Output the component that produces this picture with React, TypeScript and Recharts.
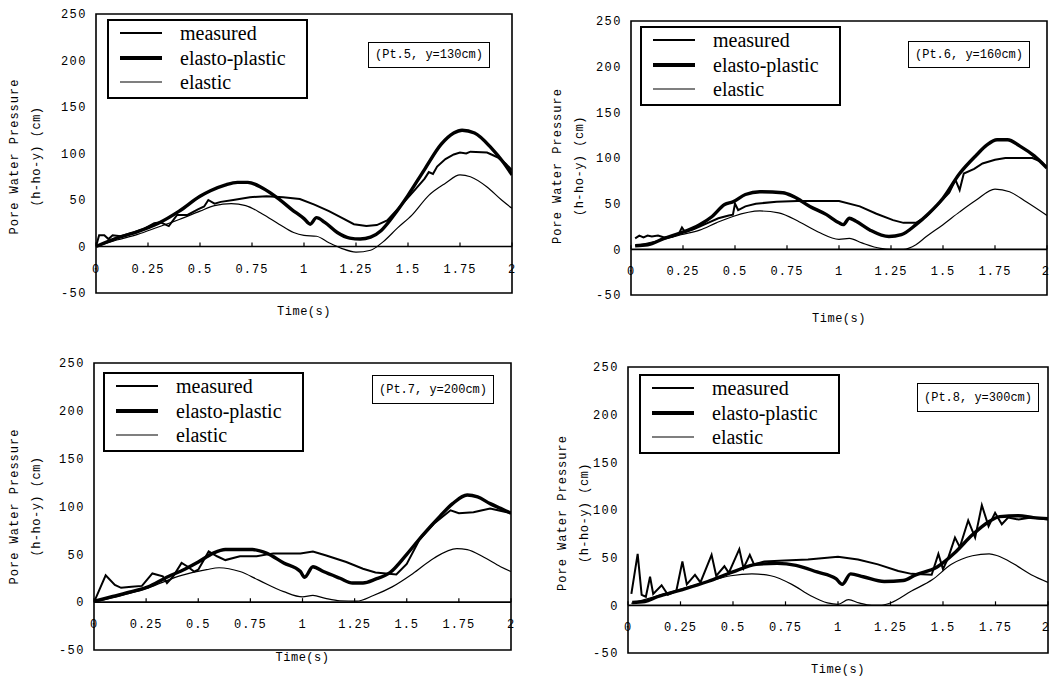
import React from 'react';
import { LineChart, Line, XAxis, YAxis, ReferenceLine, ReferenceArea, Legend, Label } from 'recharts';

const xTicks = [0, 0.25, 0.5, 0.75, 1, 1.25, 1.5, 1.75, 2];
const xTickLabels = ['0', '0.25', '0.5', '0.75', '1', '1.25', '1.5', '1.75', '2'];
const yTicks = [-50, 0, 50, 100, 150, 200, 250];
const seriesNames = ['measured', 'elasto-plastic', 'elastic'];
const panelLabels = ['(Pt.5, y=130cm)', '(Pt.6, y=160cm)', '(Pt.7, y=200cm)', '(Pt.8, y=300cm)'];

// Pt.5
const p5MeasuredT = [0, 0.015, 0.04, 0.06, 0.08, 0.12, 0.18, 0.23, 0.28, 0.31, 0.35, 0.39, 0.44, 0.49, 0.52, 0.54, 0.57, 0.6, 0.66, 0.74, 0.82, 0.9, 0.98, 1.05, 1.12, 1.18, 1.24, 1.3, 1.35, 1.4, 1.47, 1.53, 1.58, 1.6, 1.62, 1.64, 1.68, 1.72, 1.75, 1.78, 1.8, 1.88, 1.93, 1.97, 2.0];
const p5MeasuredV = [0, 12, 12, 8, 12, 11, 15, 19, 25, 26, 22, 34, 34, 40, 43, 50, 46, 48, 50, 53, 54, 53, 51, 45, 38, 31, 24, 22, 23, 28, 45, 60, 73, 80, 78, 86, 94, 99, 101, 100, 102, 101, 96, 89, 82];
const p5PlasticT = [0, 0.1, 0.2, 0.3, 0.4, 0.5, 0.55, 0.62, 0.68, 0.73, 0.8, 0.88, 0.94, 1.0, 1.03, 1.06, 1.1, 1.16, 1.22, 1.27, 1.32, 1.37, 1.43, 1.5, 1.58, 1.66, 1.72, 1.76, 1.82, 1.9, 1.96, 2.0];
const p5PlasticV = [0, 9, 16, 25, 38, 54, 60, 66, 69, 69, 63, 51, 40, 30, 24, 31, 26, 15, 9, 8, 10, 17, 33, 55, 83, 110, 122, 125, 122, 106, 90, 77];
const p5ElasticT = [0, 0.1, 0.2, 0.3, 0.4, 0.5, 0.57, 0.65, 0.72, 0.8, 0.88, 0.95, 1.0, 1.06, 1.12, 1.18, 1.25, 1.32, 1.38, 1.45, 1.52, 1.6, 1.68, 1.75, 1.8, 1.88, 1.95, 2.0];
const p5ElasticV = [0, 7, 13, 21, 29, 38, 44, 46, 44, 35, 24, 15, 12, 11, 4, -2, -6, -4, 5, 20, 34, 55, 68, 77, 75, 64, 50, 41];

// Pt.6
const p6MeasuredT = [0.02, 0.04, 0.06, 0.08, 0.1, 0.13, 0.16, 0.2, 0.23, 0.245, 0.26, 0.3, 0.33, 0.37, 0.42, 0.47, 0.49, 0.5, 0.515, 0.55, 0.6, 0.7, 0.8, 0.9, 1.0, 1.1, 1.18, 1.26, 1.31, 1.37, 1.42, 1.48, 1.53, 1.56, 1.58, 1.6, 1.65, 1.69, 1.75, 1.8, 1.93, 1.97, 2.0];
const p6MeasuredV = [12, 15, 13, 15, 14, 15, 13, 14, 17, 24, 19, 22, 25, 29, 34, 37, 38, 50, 43, 47, 50, 52, 53, 53, 53, 47, 39, 32, 29, 29, 36, 50, 62, 76, 65, 83, 88, 94, 98, 100, 100, 96, 90];
const p6PlasticT = [0.02, 0.08, 0.16, 0.24, 0.33, 0.39, 0.45, 0.49, 0.55, 0.62, 0.73, 0.78, 0.86, 0.94, 1.0, 1.02, 1.05, 1.08, 1.15, 1.24, 1.3, 1.37, 1.43, 1.5, 1.58, 1.66, 1.71, 1.76, 1.81, 1.87, 1.94, 2.0];
const p6PlasticV = [4, 5, 12, 18, 27, 36, 49, 52, 60, 63, 62, 58, 47, 38, 29, 27, 34, 31, 21, 14, 16, 27, 39, 56, 83, 103, 114, 120, 120, 113, 102, 89];
const p6ElasticT = [0.02, 0.16, 0.24, 0.33, 0.41, 0.49, 0.62, 0.71, 0.81, 0.9, 1.0, 1.05, 1.11, 1.2, 1.25, 1.31, 1.37, 1.42, 1.5, 1.58, 1.66, 1.75, 1.82, 1.9, 2.0];
const p6ElasticV = [4, 11, 16, 21, 29, 36, 42, 40, 30, 19, 11, 12, 7, 1, 0, 0, 5, 14, 27, 41, 54, 66, 63, 52, 37];

// Pt.7
const p7MeasuredT = [0, 0.056, 0.1, 0.13, 0.18, 0.23, 0.28, 0.33, 0.35, 0.38, 0.42, 0.45, 0.48, 0.5, 0.55, 0.59, 0.63, 0.7, 0.78, 0.86, 0.99, 1.05, 1.11, 1.21, 1.29, 1.35, 1.45, 1.5, 1.56, 1.63, 1.71, 1.75, 1.82, 1.9, 2.0];
const p7MeasuredV = [0, 28, 18, 15, 16, 17, 30, 27, 20, 27, 41, 37, 32, 34, 53, 48, 44, 48, 48, 51, 51, 53, 49, 42, 35, 31, 29, 40, 65, 82, 96, 93, 94, 98, 93];
const p7PlasticT = [0, 0.09, 0.18, 0.26, 0.34, 0.44, 0.5, 0.57, 0.63, 0.76, 0.83, 0.91, 0.99, 1.01, 1.05, 1.1, 1.18, 1.24, 1.29, 1.35, 1.42, 1.5, 1.58, 1.66, 1.72, 1.79, 1.84, 1.9, 1.95, 2.0];
const p7PlasticV = [1, 6, 11, 16, 25, 35, 42, 51, 55, 55, 51, 41, 32, 26, 37, 32, 25, 20, 20, 24, 31, 50, 71, 90, 103, 112, 110, 103, 98, 93];
const p7ElasticT = [0, 0.26, 0.42, 0.54, 0.6, 0.7, 0.79, 0.91, 1.0, 1.05, 1.11, 1.18, 1.26, 1.34, 1.43, 1.53, 1.63, 1.74, 1.79, 1.87, 1.95, 2.0];
const p7ElasticV = [0, 15, 28, 34, 36, 32, 23, 11, 5.5, 7, 4, 1.5, 1, 7, 16, 30, 46, 56, 55, 47, 37, 32];

// Pt.8
const p8MeasuredT = [0.016, 0.046, 0.065, 0.085, 0.105, 0.12, 0.16, 0.19, 0.23, 0.259, 0.28, 0.319, 0.345, 0.398, 0.42, 0.459, 0.48, 0.53, 0.55, 0.58, 0.6, 0.65, 0.745, 0.857, 1.0, 1.095, 1.19, 1.287, 1.35, 1.446, 1.478, 1.5, 1.525, 1.557, 1.58, 1.62, 1.653, 1.685, 1.717, 1.748, 1.78, 1.81, 1.86, 1.92, 2.0];
const p8MeasuredV = [12, 54, 11, 9, 30, 12, 21, 11, 15, 46, 22, 32, 24, 53, 31, 41, 34, 59, 39, 53, 43, 46, 47, 48, 51, 48, 43, 36, 33, 32, 54, 38, 50, 71, 61, 89, 71, 105, 83, 97, 85, 92, 90, 92, 90];
const p8PlasticT = [0.02, 0.08, 0.14, 0.25, 0.38, 0.5, 0.61, 0.71, 0.8, 0.9, 0.99, 1.02, 1.06, 1.12, 1.22, 1.31, 1.37, 1.47, 1.56, 1.64, 1.72, 1.77, 1.86, 1.93, 2.0];
const p8PlasticV = [3, 4, 9, 16, 25, 35, 43, 44, 42, 35, 28, 22, 33, 30, 25, 26, 32, 40, 56, 74, 88, 93, 94, 92, 91];
const p8ElasticT = [0.016, 0.22, 0.38, 0.49, 0.59, 0.68, 0.78, 0.87, 0.95, 1.0, 1.05, 1.1, 1.16, 1.2, 1.25, 1.35, 1.45, 1.54, 1.64, 1.72, 1.76, 1.84, 1.92, 2.0];
const p8ElasticV = [2, 15, 25, 31, 33, 31, 22, 10, 2.5, 1, 6, 2.5, 0, 0, 2.5, 15, 27, 43, 52, 54, 52, 43, 32, 24];

const zip = (t: number[], v: number[]) => t.map((x, i) => ({ t: x, v: v[i] }));

const MONO = '"Liberation Mono", "DejaVu Sans Mono", monospace';
const SERIF = '"Liberation Serif", "DejaVu Serif", serif';
const Y_AXIS_W = 50;
const X_AXIS_H = 20;

type PanelCfg = {
  pos: { left: number; top: number };
  size: { w: number; h: number };
  margin: { top: number; right: number; bottom: number; left: number };
  label: string;
  measured: { t: number; v: number }[];
  plastic: { t: number; v: number }[];
  elastic: { t: number; v: number }[];
  yTitle: { off1: number; off2: number; dy: number; second: string };
  xTitleDy: number;
  legendBox: { x: number; y: number };
  annBox: { x: number; y: number; h: number };
};

const panels: PanelCfg[] = [
  {
    pos: { left: 0, top: 0 }, size: { w: 525, h: 340 },
    margin: { top: 14, right: 13, bottom: 27, left: 46 },
    label: panelLabels[0],
    measured: zip(p5MeasuredT, p5MeasuredV), plastic: zip(p5PlasticT, p5PlasticV), elastic: zip(p5ElasticT, p5ElasticV),
    yTitle: { off1: 81, off2: 59, dy: 3, second: '(h-ho-y) (cm)' }, xTitleDy: 19,
    legendBox: { x: 11, y: 5 }, annBox: { x: 272, y: 28, h: 26 },
  },
  {
    pos: { left: 525, top: 0 }, size: { w: 525, h: 340 },
    margin: { top: 21, right: 3, bottom: 25, left: 56 },
    label: panelLabels[1],
    measured: zip(p6MeasuredT, p6MeasuredV), plastic: zip(p6PlasticT, p6PlasticV), elastic: zip(p6ElasticT, p6ElasticV),
    yTitle: { off1: 73, off2: 51, dy: 8, second: '(h-ho-y) (cm)' }, xTitleDy: 24,
    legendBox: { x: 9, y: 5 }, annBox: { x: 277, y: 20, h: 27 },
  },
  {
    pos: { left: 0, top: 340 }, size: { w: 525, h: 339 },
    margin: { top: 23, right: 14, bottom: 9, left: 44 },
    label: panelLabels[2],
    measured: zip(p7MeasuredT, p7MeasuredV), plastic: zip(p7PlasticT, p7PlasticV), elastic: zip(p7ElasticT, p7ElasticV),
    yTitle: { off1: 79, off2: 57, dy: 0, second: '(h-ho-y)  (cm)' }, xTitleDy: 8,
    legendBox: { x: 9, y: 9 }, annBox: { x: 278, y: 12, h: 29 },
  },
  {
    pos: { left: 525, top: 340 }, size: { w: 525, h: 339 },
    margin: { top: 27, right: 2, bottom: 6, left: 53 },
    label: panelLabels[3],
    measured: zip(p8MeasuredT, p8MeasuredV), plastic: zip(p8PlasticT, p8PlasticV), elastic: zip(p8ElasticT, p8ElasticV),
    yTitle: { off1: 65, off2: 43, dy: 3, second: '(h-ho-y) (cm)' }, xTitleDy: 17,
    legendBox: { x: 11, y: 7 }, annBox: { x: 289, y: 16, h: 29 },
  },
];

const legendWidths = [2, 4, 1.2];

function Panel({ cfg }: { cfg: PanelCfg }) {
  const plotLeft = cfg.margin.left + Y_AXIS_W;
  const plotTop = cfg.margin.top;
  const plotW = cfg.size.w - cfg.margin.right - plotLeft;
  const plotH = cfg.size.h - cfg.margin.bottom - X_AXIS_H - plotTop;
  const zeroY = plotTop + (plotH * 250) / 300;
  const midY = plotTop + plotH / 2 + cfg.yTitle.dy;

  const xTick = (props: any) => {
    const { x, payload } = props;
    const i = xTicks.indexOf(payload.value);
    const nearEdge = x + 6 > cfg.size.w;
    return (
      <g>
        <line x1={x} x2={x} y1={zeroY} y2={zeroY - 4} stroke="#000" strokeWidth={1.2} />
        <text x={nearEdge ? cfg.size.w - 1 : x} y={zeroY + 23} textAnchor={nearEdge ? 'end' : 'middle'} dominantBaseline="central" fontFamily={MONO} fontSize={12} letterSpacing={nearEdge ? 0 : 1} fill="#000">
          {xTickLabels[i]}
        </text>
      </g>
    );
  };

  const yTitle = () => {
    const x1 = plotLeft - cfg.yTitle.off1;
    const x2 = plotLeft - cfg.yTitle.off2;
    return (
      <g>
        <text x={x1} y={midY} transform={`rotate(-90, ${x1}, ${midY})`} textAnchor="middle" dominantBaseline="central" fontFamily={MONO} fontSize={12} letterSpacing={1} fill="#000">
          Pore Water Pressure
        </text>
        <text x={x2} y={midY} transform={`rotate(-90, ${x2}, ${midY})`} textAnchor="middle" dominantBaseline="central" fontFamily={MONO} fontSize={12} letterSpacing={0.5} fill="#000">
          {cfg.yTitle.second}
        </text>
      </g>
    );
  };

  const xTitle = () => (
    <text x={plotLeft + plotW / 2} y={plotTop + plotH + cfg.xTitleDy} textAnchor="middle" dominantBaseline="central" fontFamily={MONO} fontSize={12} letterSpacing={0.5} fill="#000">
      Time(s)
    </text>
  );

  const legendContent = () => (
    <div style={{ position: 'relative', width: plotW, height: plotH, pointerEvents: 'none' }}>
      <div style={{ position: 'absolute', left: cfg.legendBox.x, top: cfg.legendBox.y, width: 201, height: 80, border: '2px solid #000', boxSizing: 'border-box', background: '#fff' }}>
        {seriesNames.map((n, i) => (
          <div key={n} style={{ position: 'absolute', left: 0, top: i * 24.5, height: 24, display: 'flex', alignItems: 'center' }}>
            <svg width={60} height={24} style={{ display: 'block' }}>
              <line x1={11} x2={53} y1={12} y2={12} stroke="#000" strokeWidth={legendWidths[i]} />
            </svg>
            <span style={{ marginLeft: 11, fontFamily: SERIF, fontSize: 20, lineHeight: '24px', color: '#000', whiteSpace: 'nowrap' }}>{n}</span>
          </div>
        ))}
      </div>
      <div style={{ position: 'absolute', left: cfg.annBox.x, top: cfg.annBox.y, width: 122, height: cfg.annBox.h, border: '1.5px solid #000', boxSizing: 'border-box', background: '#fff', display: 'flex', alignItems: 'center', justifyContent: 'center', fontFamily: MONO, fontSize: 12, color: '#000', whiteSpace: 'nowrap' }}>
        {cfg.label}
      </div>
    </div>
  );

  return (
    <div style={{ position: 'absolute', left: cfg.pos.left, top: cfg.pos.top, width: cfg.size.w, height: cfg.size.h }}>
      <LineChart width={cfg.size.w} height={cfg.size.h} margin={cfg.margin}>
        <XAxis type="number" dataKey="t" domain={[0, 2]} ticks={xTicks} interval={0} allowDataOverflow
          height={X_AXIS_H} axisLine={false} tickLine={false} tickSize={0} tickMargin={0} tick={xTick}>
          <Label content={xTitle} />
        </XAxis>
        <YAxis type="number" domain={[-50, 250]} ticks={yTicks} interval={0} allowDataOverflow width={Y_AXIS_W}
          axisLine={false} tickLine={false} tickSize={0} tickMargin={9}
          tick={{ fontFamily: MONO, fontSize: 12, fill: '#000', letterSpacing: 1.5 }}>
          <Label content={yTitle} />
        </YAxis>
        <ReferenceArea x1={0} x2={2} y1={-50} y2={250} fill="none" stroke="#000" strokeWidth={1.6} ifOverflow="visible" />
        <ReferenceLine y={0} stroke="#000" strokeWidth={1.6} />
        <Legend verticalAlign="middle" align="center" layout="horizontal" content={legendContent}
          wrapperStyle={{ left: plotLeft, top: plotTop, width: plotW, height: plotH }} />
        <Line name={seriesNames[2]} data={cfg.elastic} dataKey="v" type="monotone" stroke="#000" strokeWidth={1.2} dot={false} isAnimationActive={false} />
        <Line name={seriesNames[0]} data={cfg.measured} dataKey="v" type="linear" stroke="#000" strokeWidth={2} dot={false} isAnimationActive={false} />
        <Line name={seriesNames[1]} data={cfg.plastic} dataKey="v" type="monotone" stroke="#000" strokeWidth={3.4} dot={false} isAnimationActive={false} />
      </LineChart>
    </div>
  );
}

export default function App() {
  return (
    <div style={{ position: 'absolute', left: 0, top: 0, width: 1050, height: 679, background: '#fff', overflow: 'hidden' }}>
      {panels.map((p, i) => (
        <Panel key={i} cfg={p} />
      ))}
    </div>
  );
}
